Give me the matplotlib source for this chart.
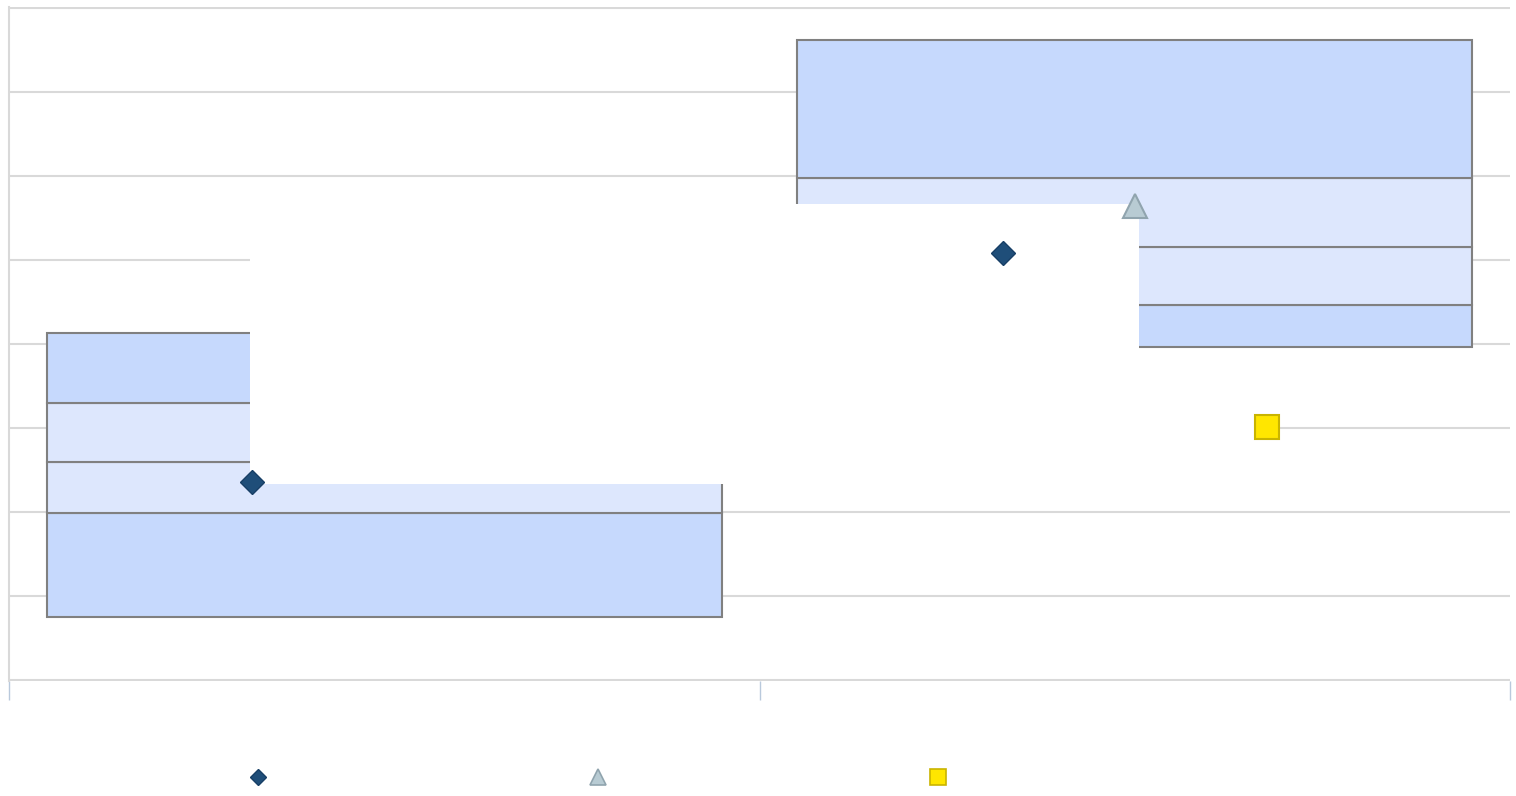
import matplotlib
matplotlib.use("Agg")
import matplotlib.pyplot as plt
from matplotlib.lines import Line2D
from matplotlib.patches import Polygon
import numpy as np

# ---- data ----
categories = ["A", "B"]
box_min = [0.75, 3.96]
box_q1 = [1.99, 4.47]
box_median = [2.60, 5.16]
box_q3 = [3.30, 5.98]
box_max = [4.13, 7.62]

series1 = [2.36, 5.08]          # diamonds
series2 = [np.nan, 5.64]        # triangles
series3 = [np.nan, 3.01]        # squares

y_ticks = [0, 1, 2, 3, 4, 5, 6, 7, 8]

# ---- style ----
dark_fill = "#c6d9fd"
light_fill = "#dde7fd"
edge = "#808080"
grid_c = "#d9d9d9"
tick_c = "#b9c9dc"

fig = plt.figure(figsize=(15.16, 7.96), dpi=100)
ax = fig.add_axes([9/1516, 1-681/796, 1501/1516, 674/796])

x = np.arange(len(categories))
w = 0.9
segments = [
    (box_min, box_q1, dark_fill),
    (box_q1, box_median, light_fill),
    (box_median, box_q3, light_fill),
    (box_q3, box_max, dark_fill),
]
for lo, hi, col in segments:
    lo = np.array(lo); hi = np.array(hi)
    ax.bar(x, hi - lo, bottom=lo, width=w, color=col, edgecolor=edge,
           linewidth=1.5, zorder=1)

off = 0.176
# white mask region (spans from first diamond to the triangle / square)
x0 = x[0] - off - 0.003
x1 = x[1] + 0.005
x2 = x[1] + off
yb = series1[0] - 0.03
yt = series2[1] + 0.02
ym = box_min[1] - 0.06
mask = Polygon([(x0, yb), (x2, yb), (x2, ym), (x1, ym), (x1, yt), (x0, yt)],
               closed=True, facecolor="white", edgecolor="none", zorder=2)
ax.add_patch(mask)

ax.plot(x - off, series1, linestyle="none", marker="D", markersize=12.5,
        markerfacecolor="#1f4e79", markeredgecolor="#173f66", markeredgewidth=1, zorder=4)
ax.plot(x, series2, linestyle="none", marker="^", markersize=17,
        markerfacecolor="#b8cbd3", markeredgecolor="#90a4ae", markeredgewidth=1.5, zorder=4)
ax.plot(x + off, series3, linestyle="none", marker="s", markersize=17,
        markerfacecolor="#ffe600", markeredgecolor="#c9b400", markeredgewidth=1.5, zorder=4)

ax.set_xlim(-0.5, 1.5)
ax.set_ylim(-0.01, 8.01)
ax.set_yticks(y_ticks)
ax.yaxis.grid(True, color=grid_c, linewidth=1.5, zorder=0)
ax.set_axisbelow(True)
ax.set_xticks([-0.5, 0.5, 1.5])
ax.tick_params(axis="x", direction="out", length=14, width=1, color=tick_c,
               labelbottom=False)
ax.tick_params(axis="y", length=0, labelleft=False)
for s in ["top", "right", "bottom"]:
    ax.spines[s].set_visible(False)
ax.spines["left"].set_color(grid_c)
ax.spines["left"].set_linewidth(1.5)

handles = [
    Line2D([], [], linestyle="none", marker="D", markersize=8.5,
           markerfacecolor="#1f4e79", markeredgecolor="#173f66"),
    Line2D([], [], linestyle="none", marker="^", markersize=11.5,
           markerfacecolor="#b8cbd3", markeredgecolor="#90a4ae", markeredgewidth=1.2),
    Line2D([], [], linestyle="none", marker="s", markersize=11.5,
           markerfacecolor="#ffe600", markeredgecolor="#c9b400", markeredgewidth=1.2),
]
fs = 10
px_per_fs = fs * 100 / 72
fig.legend(handles, ["", "", ""], loc="center", ncol=3, frameon=False,
           bbox_to_anchor=(597.5/1516, 1-778/796), fontsize=fs,
           handlelength=1, handletextpad=0,
           columnspacing=(340 - px_per_fs) / px_per_fs)

fig.savefig("out.png", dpi=100)
